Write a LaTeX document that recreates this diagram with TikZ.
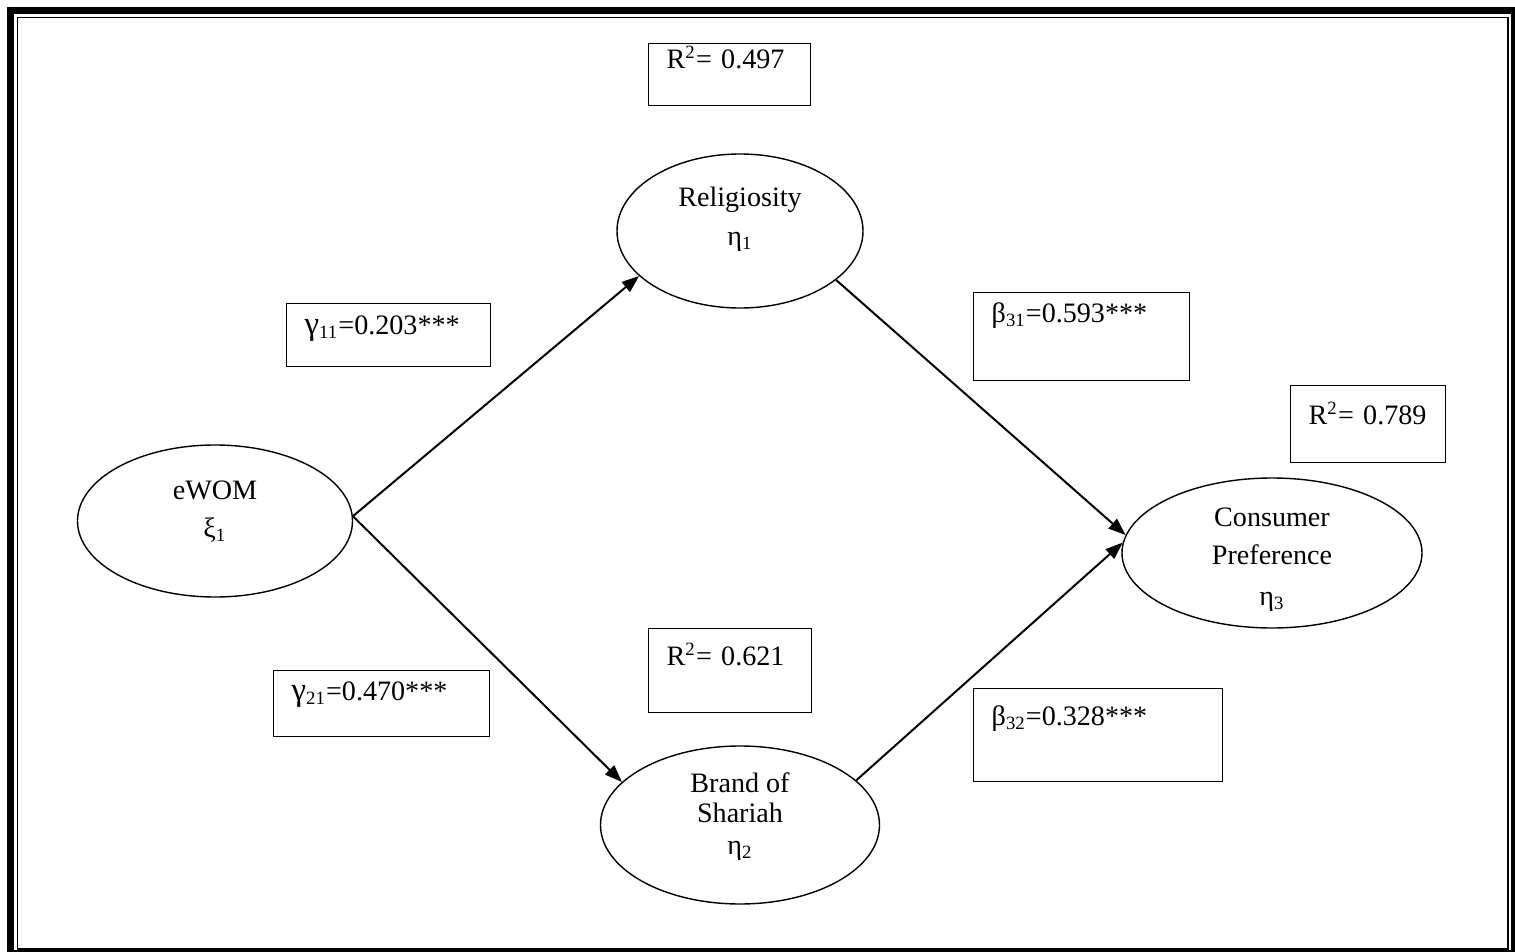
\documentclass[tikz,border=0pt]{standalone}
\usepackage{fontspec}
\setmainfont{Liberation Serif}
\usetikzlibrary{arrows.meta,shapes.geometric,positioning}

\begin{document}
\begin{tikzpicture}[x=0.015cm,y=-0.015cm,
  font=\fontsize{12}{14.4}\selectfont,
  latent/.style={draw,ellipse,line width=0.6pt,inner sep=0pt,align=center,
    text height=#1,text depth=0pt},
  coef/.style n args={4}{draw,line width=0.6pt,anchor=north west,
    inner ysep=0pt,inner xsep=0.27cm,align=left,
    text width=#1,minimum height=#2,text height=#3,text depth=#4},
  path/.style={line width=0.85pt,-{Triangle[length=2.6mm,width=1.9mm]}}]
  \clip (0,0) rectangle (1515,952);
  \draw[line width=3pt] (10.5,10.5) rectangle (1514.5,954);
  \draw[line width=0.85pt] (17.5,17.5) rectangle (1508,949);
  \def\gam{{\fontsize{14}{14}\selectfont γ}}

  \node[latent=0.48cm,minimum width=4.125cm,minimum height=2.28cm] (ewom) at (215,521)
    {eWOM\\[1.5pt]ξ\textsubscript{1}};
  \node[latent=0.42cm,minimum width=3.69cm,minimum height=2.31cm] (relig) at (740,231)
    {Religiosity\\[2pt]η\textsubscript{1}};
  \node[latent=0.87cm,minimum width=4.185cm,minimum height=2.37cm] (brand) at (740,825)
    {Brand of\\[-1.5pt]Shariah\\[-1pt]η\textsubscript{2}};
  \node[latent=1.56cm,minimum width=4.5cm,minimum height=2.25cm] (cons) at (1272,553)
    {Consumer\\[1.5pt]Preference\\[3pt]η\textsubscript{3}};

  \node[coef={1.89cm}{0.93cm}{0.375cm}{0.555cm}] (r1) at (648,43) {R\textsuperscript{2}= 0.497};
  \node[coef={1.905cm}{1.26cm}{0.555cm}{0.705cm}] (r2) at (648,628) {R\textsuperscript{2}= 0.621};
  \node[coef={1.785cm}{1.155cm}{0.585cm}{0.57cm}] (r3) at (1290,385) {R\textsuperscript{2}= 0.789};
  \node[coef={2.52cm}{0.945cm}{0.465cm}{0.48cm}] (g11) at (286,303) {\gam\textsubscript{11}=0.203***};
  \node[coef={2.70cm}{0.99cm}{0.45cm}{0.54cm}] (g21) at (273,670) {\gam\textsubscript{21}=0.470***};
  \node[coef={2.70cm}{1.32cm}{0.45cm}{0.87cm}] (b31) at (973,292) {β\textsubscript{31}=0.593***};
  \node[coef={3.195cm}{1.395cm}{0.555cm}{0.84cm}] (b32) at (973,688) {β\textsubscript{32}=0.328***};

  \draw[path] (ewom.2) -- (relig.204);
  \draw[path] (ewom.2) -- (brand.160);
  \draw[path] (relig.333) -- (cons.173);
  \draw[path] (brand.21) -- (cons.176);
\end{tikzpicture}
\end{document}
